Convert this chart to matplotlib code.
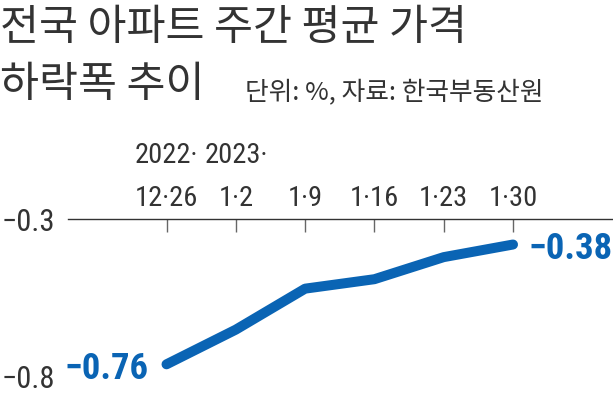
import matplotlib
matplotlib.use('Agg')
import matplotlib.pyplot as plt
from matplotlib import font_manager

# 전국 아파트 주간 평균 가격 변동률 (%)
dates = ['2022·\n12·26', '2023·\n1·2', '1·9', '1·16', '1·23', '1·30']
change = [-0.76, -0.65, -0.52, -0.49, -0.42, -0.38]
yticks = [-0.3, -0.8]
ytick_labels = ['−0.3', '−0.8']

title_lines = ['전국 아파트 주간 평균 가격', '하락폭 추이']
subtitle = '단위: %, 자료: 한국부동산원'

blue = '#0a64b4'
dark = '#333333'

# narrowest installed face for the numbers
installed = {f.name for f in font_manager.fontManager.ttflist}
narrow = [n for n in ['Roboto Condensed', 'Liberation Sans Narrow'] if n in installed]
num_font = narrow + ['Liberation Sans', 'DejaVu Sans']
scale = 1.0 if narrow else 0.88
kr_font = ['Noto Sans CJK KR', 'DejaVu Sans']

W, H = 613, 393
fig = plt.figure(figsize=(W / 100, H / 100), dpi=100)

# axes box in pixels: left 67.7, top 219.3 (the -0.3 line), bottom = figure bottom
ax = fig.add_axes([67.7 / W, 0, 1 - 67.7 / W, (H - 219.3) / H])
x = list(range(len(dates)))
ax.plot(x, change, color=blue, lw=7.2, solid_capstyle='round',
        solid_joinstyle='round', clip_on=False, zorder=3)

ax.set_xlim(-1.426, 6.443)
ax.set_ylim(-0.851, -0.3)

for s in ['left', 'right', 'bottom']:
    ax.spines[s].set_visible(False)
ax.spines['top'].set_color(dark)
ax.spines['top'].set_linewidth(1.0)

ax.set_xticks(x)
ax.set_xticklabels(dates, fontfamily=num_font, fontsize=20.5 * scale, color=dark,
                   linespacing=1.8, ha='center')
ax.tick_params(axis='x', top=True, bottom=False, labeltop=True,
               labelbottom=False, direction='in', length=9, width=1,
               color='#666666', pad=5)

ax.set_yticks(yticks)
ax.set_yticklabels(ytick_labels, fontfamily=num_font, fontsize=22 * scale, color=dark)
ax.tick_params(axis='y', length=0, pad=9)

# end-point value labels
ax.annotate('−0.76', (x[0], change[0]), xytext=(-13, -10.5),
            textcoords='offset points', ha='right', va='baseline',
            fontfamily=num_font, fontweight='bold', fontsize=28 * scale - 1.5,
            color=blue, annotation_clip=False)
ax.annotate('−0.38', (x[-1], change[-1]), xytext=(11, -10.5),
            textcoords='offset points', ha='left', va='baseline',
            fontfamily=num_font, fontweight='bold', fontsize=28 * scale - 1.5,
            color=blue, annotation_clip=False)

fig.text(0, 1 - 40 / H, title_lines[0], fontfamily=kr_font,
         fontsize=30.5, color=dark, va='baseline', ha='left')
fig.text(0, 1 - 97 / H, title_lines[1], fontfamily=kr_font,
         fontsize=30.5, color=dark, va='baseline', ha='left')
fig.text(245 / W, 1 - 99 / H, subtitle, fontfamily=kr_font,
         fontsize=18.5, color=dark, va='baseline', ha='left')

fig.savefig('out.png', dpi=100)
